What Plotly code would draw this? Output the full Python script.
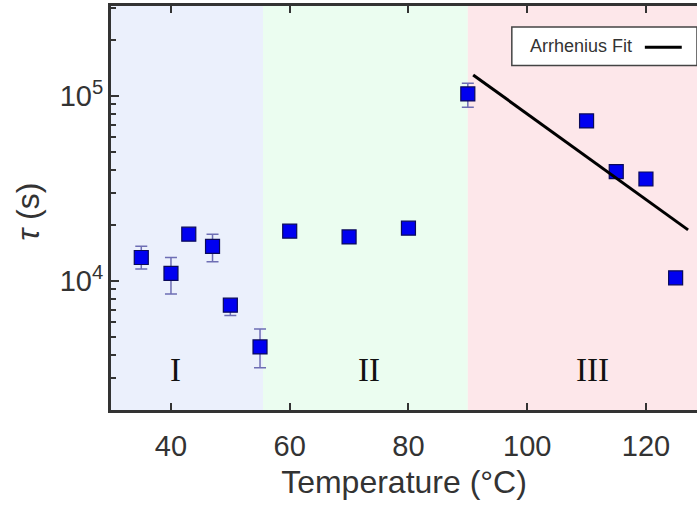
import math
import plotly.graph_objects as go

# ---- data ----
temps = [35, 40, 43, 47, 50, 55, 60, 70, 80, 90, 110, 115, 120, 125]
tau = [13400, 11000, 17900, 15400, 7400, 4400, 18600, 17300, 19300, 102600, 73300, 39000, 35600, 10400]
err_plus = [2000, 2400, 600, 2500, 400, 1100, 500, 400, 900, 14700, 0, 0, 0, 0]
err_minus = [1800, 2500, 600, 2700, 900, 1000, 500, 400, 900, 15700, 0, 0, 0, 0]

fit_T = [90.9, 127.1]
fit_tau = [130000, 18900]

region_edges = [29.9, 55.5, 90.0, 128.6]
region_colors = ["#ebf0fc", "#ebfdf0", "#fde7ea"]
region_labels = ["I", "II", "III"]
region_label_x = [40.8, 73.4, 111.0]
region_label_y = 3300

x_ticks = [40, 60, 80, 100, 120]
y_ticks = [1e4, 1e5]
y_ticktext = ["10<sup>4</sup>", "10<sup>5</sup>"]
y_minor = [3000, 4000, 5000, 6000, 7000, 8000, 9000,
           20000, 30000, 40000, 50000, 60000, 70000, 80000, 90000,
           200000, 300000]

AX = "#333333"
SANS = "Liberation Sans, Arial, sans-serif"
SERIF = "Liberation Serif, Times New Roman, serif"

fig = go.Figure()

fig.add_trace(go.Scatter(
    x=temps, y=tau, mode="markers",
    marker=dict(symbol="square", size=14, color="#0000f0",
                line=dict(color="#0a0a5a", width=1.2)),
    error_y=dict(type="data", symmetric=False, array=err_plus, arrayminus=err_minus,
                 color="#6e6eb4", thickness=1.5, width=6),
    showlegend=False,
))

fig.add_trace(go.Scatter(
    x=fit_T, y=fit_tau, mode="lines",
    line=dict(color="black", width=3), showlegend=False,
))

shapes = []
for i, c in enumerate(region_colors):
    shapes.append(dict(type="rect", xref="x", yref="paper",
                       x0=region_edges[i], x1=region_edges[i + 1], y0=0, y1=1,
                       fillcolor=c, line=dict(width=0), layer="below"))

# custom legend box: text followed by line sample
shapes.append(dict(type="rect", xref="paper", yref="paper",
                   x0=0.684, x1=1.0, y0=0.853, y1=0.948,
                   fillcolor="white", line=dict(color="#444444", width=1.5), layer="above"))
shapes.append(dict(type="line", xref="paper", yref="paper",
                   x0=0.911, x1=0.974, y0=0.898, y1=0.898,
                   line=dict(color="black", width=3), layer="above"))

annotations = []
for lab, lx in zip(region_labels, region_label_x):
    annotations.append(dict(x=lx, y=math.log10(region_label_y), xref="x", yref="y",
                            text=lab, showarrow=False,
                            font=dict(family=SERIF, size=33, color="#111111")))
annotations.append(dict(x=0.711, y=0.9, xref="paper", yref="paper",
                        xanchor="left", yanchor="middle",
                        text="Arrhenius Fit", showarrow=False,
                        font=dict(family=SANS, size=18, color="#333333")))
# y-axis title
annotations.append(dict(x=-0.142, y=0.49, xref="paper", yref="paper",
                        xanchor="center", yanchor="middle", textangle=-90,
                        text="<i>τ</i> (s)", showarrow=False,
                        font=dict(family=SANS, size=32, color=AX)))

fig.update_layout(
    width=697, height=508,
    margin=dict(l=111, r=0, t=6, b=98),
    paper_bgcolor="white", plot_bgcolor="white",
    shapes=shapes, annotations=annotations,
    font=dict(family=SANS, color=AX),
)

fig.update_xaxes(
    range=[29.9, 128.6], tickvals=x_ticks, automargin=False,
    showline=True, linewidth=3, linecolor=AX, mirror="ticks",
    ticks="inside", ticklen=7, tickwidth=2, tickcolor=AX,
    showgrid=False, zeroline=False,
    tickfont=dict(family=SANS, size=29, color=AX),
    ticklabelstandoff=8,
    title=dict(text="Temperature (°C)", font=dict(family=SANS, size=32, color=AX), standoff=10),
)

fig.update_yaxes(
    type="log", range=[3.3027, 5.4865], automargin=False,
    tickvals=y_ticks, ticktext=y_ticktext,
    showline=True, linewidth=3, linecolor=AX, mirror=False,
    ticks="inside", ticklen=8, tickwidth=2, tickcolor=AX,
    minor=dict(ticks="inside", ticklen=5, tickwidth=1.5, tickcolor=AX, tickvals=y_minor),
    showgrid=False, zeroline=False,
    tickfont=dict(family=SANS, size=29, color=AX),
)
try:
    fig.update_yaxes(ticklabelstandoff=-1)
except Exception:
    pass

fig.write_html("out.html")
